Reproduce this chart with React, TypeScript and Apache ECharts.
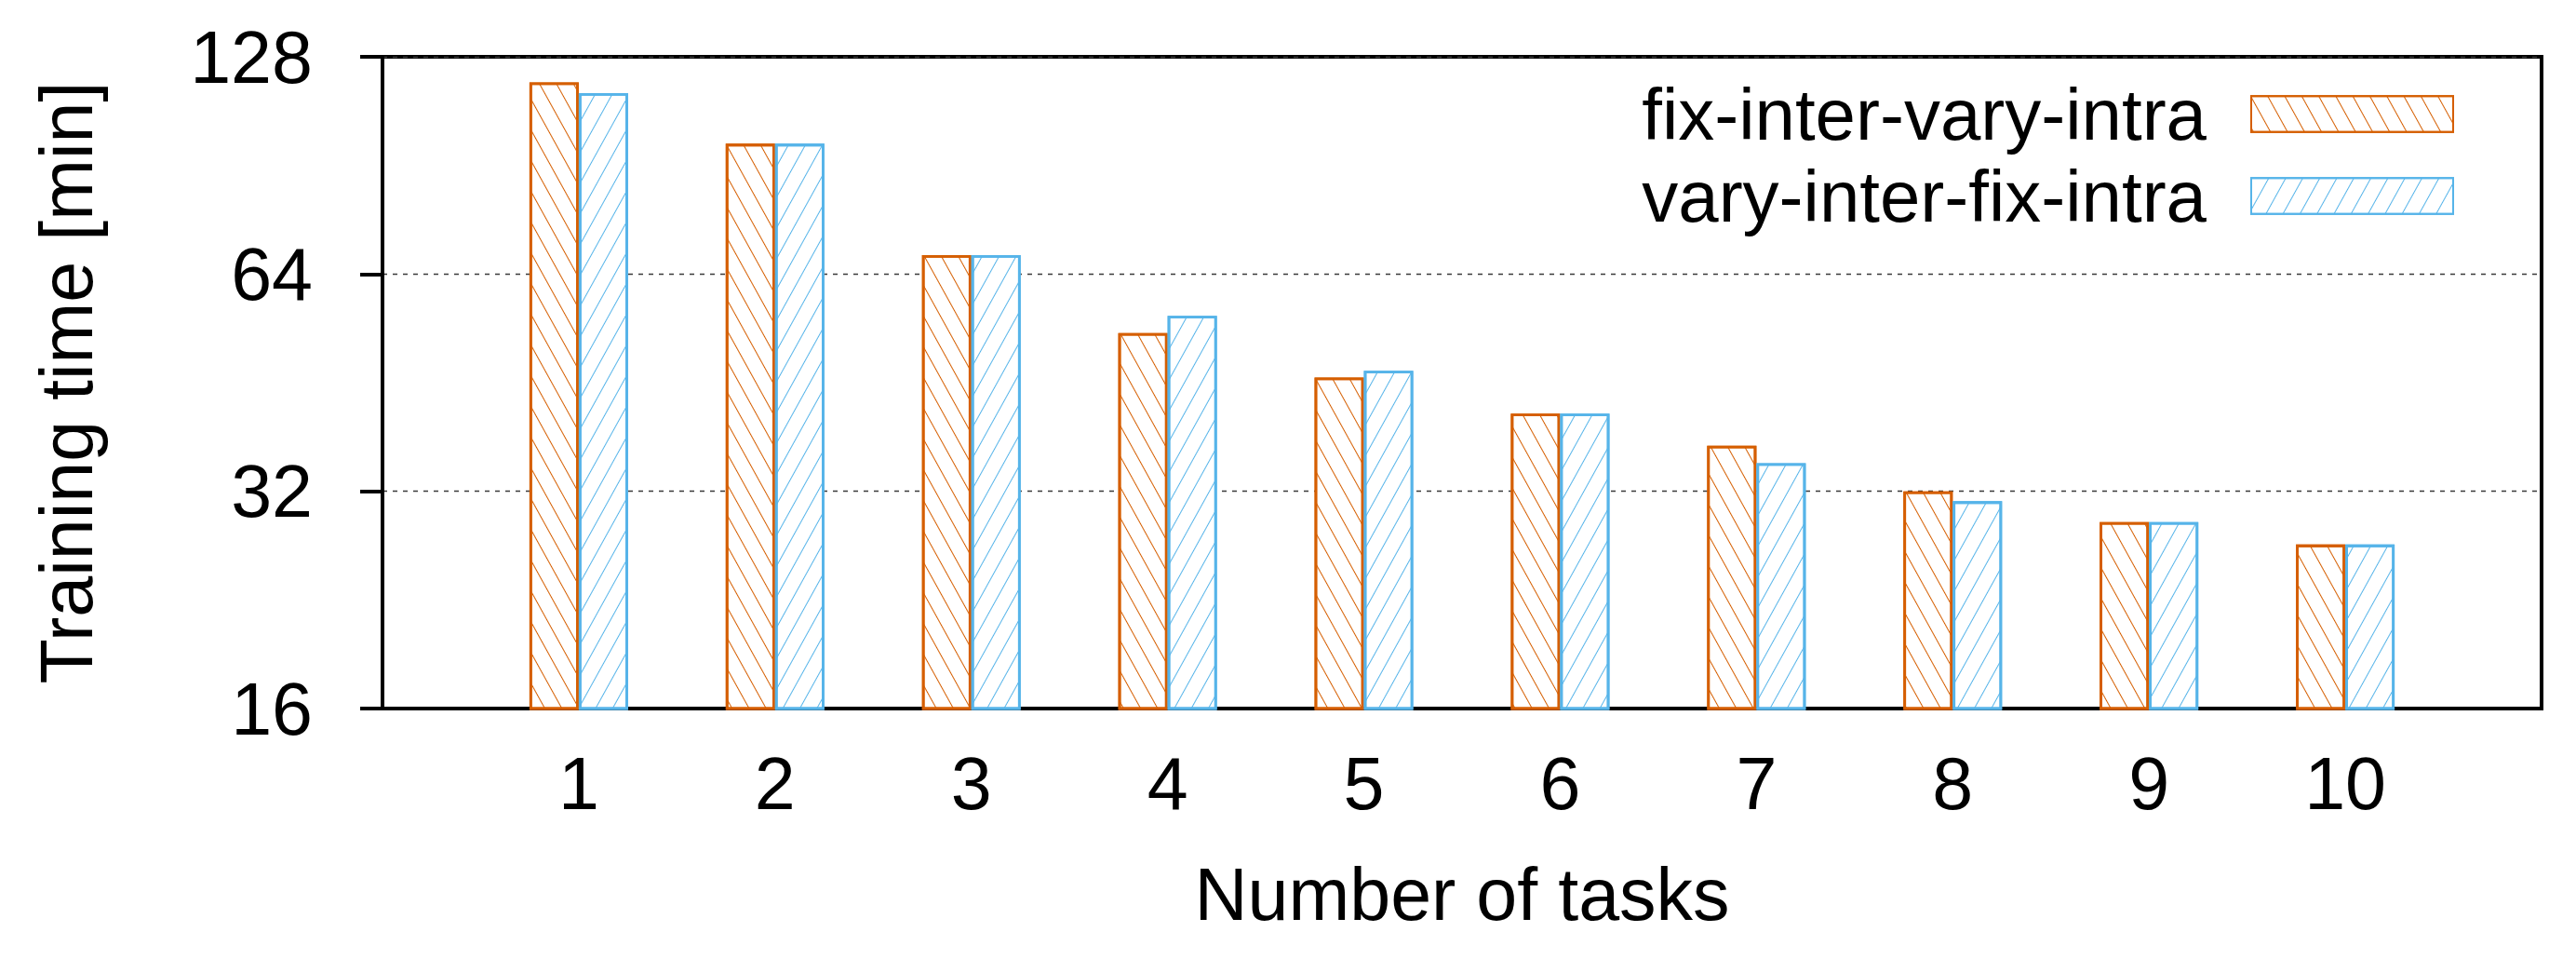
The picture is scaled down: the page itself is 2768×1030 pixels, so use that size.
import React, { useEffect, useRef } from 'react';
import * as echarts from 'echarts';

// ---- data ----
const categories = [1, 2, 3, 4, 5, 6, 7, 8, 9, 10];
const seriesNames = ['fix-inter-vary-intra', 'vary-inter-fix-intra'];
const fixInterVaryIntra = [118, 97, 68, 53, 46, 41, 37, 32, 29, 27];
const varyInterFixIntra = [114, 97, 68, 56, 47, 41, 35, 31, 29, 27];
const yTickValues = [16, 32, 64, 128];
const xTitle = 'Number of tasks';
const yTitle = 'Training time [min]';

const FONT = '"Liberation Sans", Arial, Helvetica, sans-serif';
const ORANGE = '#D55E00';
const BLUE = '#56B4E9';
const FS = 79;

function makeSeries(name: string, values: number[], color: string, rotation: number) {
  return {
    type: 'bar',
    name,
    data: categories.map((c, i) => [c, values[i]]),
    barWidth: 53,
    barGap: '0%',
    clip: true,
    silent: true,
    itemStyle: {
      color: '#ffffff',
      borderColor: color,
      borderWidth: 2.8,
      decal: {
        symbol: 'rect',
        symbolSize: 1,
        color,
        dashArrayX: [1, 0],
        dashArrayY: [1, 15],
        rotation,
      },
    },
    emphasis: { disabled: true },
  };
}

export default function App() {
  const ref = useRef<HTMLDivElement>(null);

  useEffect(() => {
    if (!ref.current) return;
    const chart = echarts.init(ref.current, null, { renderer: 'svg' });
    const textBase = { fontFamily: FONT, fontSize: FS, color: '#000' };
    chart.setOption({
      animation: false,
      backgroundColor: '#ffffff',
      grid: {
        left: 411,
        right: 37,
        top: 61,
        bottom: 269,
        show: true,
        borderColor: '#000',
        borderWidth: 4,
        backgroundColor: 'transparent',
      },
      legend: {
        show: true,
        orient: 'vertical',
        align: 'right',
        right: 131,
        top: 78.5,
        padding: 0,
        itemGap: 0,
        itemWidth: 217,
        itemHeight: 38.5,
        icon: 'rect',
        selectedMode: false,
        data: seriesNames,
        textStyle: { ...textBase, fontSize: 78, lineHeight: 88, padding: [0, 43, 0, 0] },
      },
      xAxis: {
        type: 'value',
        min: 0,
        max: 11,
        interval: 1,
        name: xTitle,
        nameLocation: 'middle',
        nameGap: 160,
        nameTextStyle: { ...textBase, lineHeight: FS },
        axisLine: { show: true, onZero: false, lineStyle: { color: '#000', width: 4 } },
        axisTick: { show: false },
        splitLine: { show: false },
        axisLabel: {
          ...textBase,
          lineHeight: FS,
          margin: 41,
          formatter: (v: number) => (categories.includes(v) ? String(v) : ''),
        },
      },
      yAxis: {
        type: 'log',
        logBase: 2,
        min: yTickValues[0],
        max: yTickValues[yTickValues.length - 1],
        name: yTitle,
        nameLocation: 'middle',
        nameGap: 300,
        nameTextStyle: { ...textBase, lineHeight: FS },
        axisLine: { show: true, lineStyle: { color: '#000', width: 4 } },
        axisTick: { show: true, inside: false, length: 24, lineStyle: { color: '#000', width: 4 } },
        splitLine: { show: true, lineStyle: { color: '#3a3a3a', width: 1.3, type: [5, 6] } },
        axisLabel: {
          ...textBase,
          lineHeight: FS,
          margin: 75,
          formatter: (v: number) => String(Math.round(v)),
        },
      },
      series: [
        makeSeries(seriesNames[0], fixInterVaryIntra, ORANGE, 1.065),
        makeSeries(seriesNames[1], varyInterFixIntra, BLUE, -1.065),
      ],
    });
    return () => chart.dispose();
  }, []);

  return (
    <div
      ref={ref}
      style={{ position: 'fixed', left: 0, top: 0, width: 2768, height: 1030, background: '#fff' }}
    />
  );
}
